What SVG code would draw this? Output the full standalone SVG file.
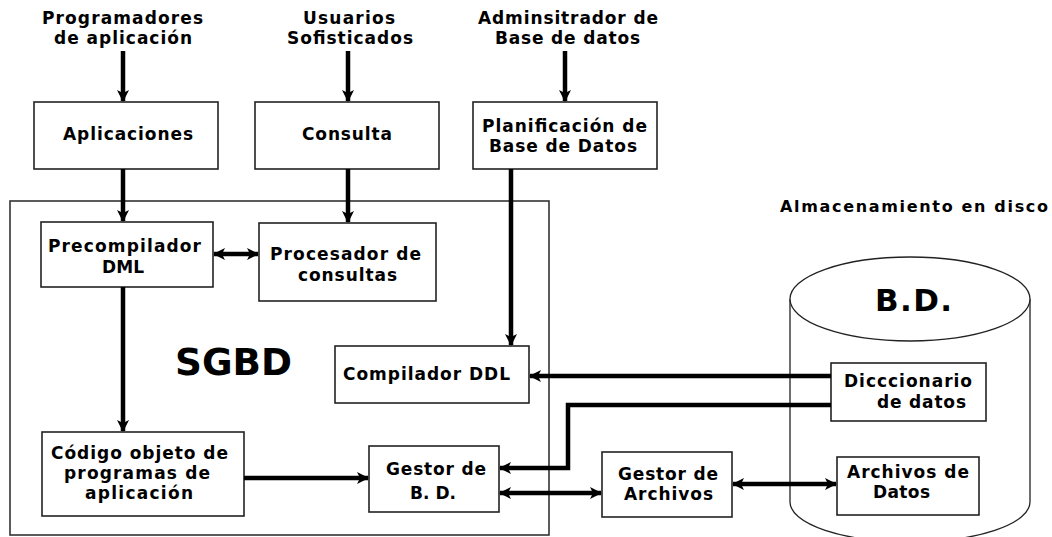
<svg xmlns="http://www.w3.org/2000/svg" width="1052" height="537" viewBox="0 0 1052 537">
<style>
.box{fill:#fff;stroke:#222;stroke-width:1.6}
.t{font-family:"DejaVu Sans","Verdana",sans-serif;font-weight:bold;font-size:17px;fill:#000;text-anchor:middle}
.c{fill:none;stroke:#000;stroke-width:4.5}
.cyl{fill:#fff;stroke:#222;stroke-width:1.3}
</style>
<defs>
<marker id="ah" viewBox="0 0 12 12" refX="11" refY="6" markerWidth="12" markerHeight="12" markerUnits="userSpaceOnUse" orient="auto-start-reverse">
<path d="M0,0 L12,6 L0,12 L3,6 z" fill="#000"/>
</marker>
</defs>
<rect width="1052" height="537" fill="#fff"/>

<g id="sgbd">
<rect x="10" y="201" width="539" height="334" fill="none" stroke="#333" stroke-width="1.6"/>
<text class="t" x="233.5" y="375" style="font-size:37px" textLength="117" lengthAdjust="spacingAndGlyphs">SGBD</text>
</g>

<g id="bd">
<path class="cyl" d="M790,299 L790,502 A120,40 0 0 0 1030,502 L1030,299"/>
<ellipse class="cyl" cx="910" cy="299" rx="120" ry="42"/>
<text class="t" x="913.5" y="311" style="font-size:31px" textLength="77" lengthAdjust="spacing">B.D.</text>
</g>
<g id="almacenamiento">
<text class="t" x="914" y="212" style="font-size:16px" textLength="268" lengthAdjust="spacing">Almacenamiento en disco</text>
</g>

<g id="programadores">
<text class="t" x="122.5" y="24" textLength="161" lengthAdjust="spacing">Programadores</text>
<text class="t" x="123" y="44" textLength="138" lengthAdjust="spacing">de aplicación</text>
</g>
<g id="usuarios">
<text class="t" x="349" y="24" textLength="92" lengthAdjust="spacing">Usuarios</text>
<text class="t" x="350" y="44" textLength="126" lengthAdjust="spacing">Sofisticados</text>
</g>
<g id="administrador">
<text class="t" x="568" y="24" textLength="180" lengthAdjust="spacing">Adminsitrador de</text>
<text class="t" x="567.5" y="44" textLength="145" lengthAdjust="spacing">Base de datos</text>
</g>

<g id="aplicaciones">
<rect class="box" x="34" y="102" width="184" height="67"/>
<text class="t" x="128" y="140" textLength="130" lengthAdjust="spacing">Aplicaciones</text>
</g>
<g id="consulta">
<rect class="box" x="255" y="102" width="184" height="67"/>
<text class="t" x="347" y="140" textLength="90" lengthAdjust="spacing">Consulta</text>
</g>
<g id="planificacion">
<rect class="box" x="473" y="102" width="184" height="67"/>
<text class="t" x="564.5" y="132" textLength="165" lengthAdjust="spacing">Planificación de</text>
<text class="t" x="563" y="152" textLength="148" lengthAdjust="spacing">Base de Datos</text>
</g>

<g id="precompilador">
<rect class="box" x="41" y="222" width="172" height="65"/>
<text class="t" x="124.5" y="252" textLength="153" lengthAdjust="spacing">Precompilador</text>
<text class="t" x="123" y="273" textLength="42" lengthAdjust="spacing">DML</text>
</g>
<g id="procesador">
<rect class="box" x="259" y="223" width="177" height="78"/>
<text class="t" x="345.5" y="260" textLength="151" lengthAdjust="spacing">Procesador de</text>
<text class="t" x="347.5" y="281" textLength="99" lengthAdjust="spacing">consultas</text>
</g>
<g id="compilador">
<rect class="box" x="335" y="346" width="194" height="57"/>
<text class="t" x="426.5" y="380" textLength="167" lengthAdjust="spacing">Compilador DDL</text>
</g>
<g id="codigo">
<rect class="box" x="42" y="432" width="202" height="84"/>
<text class="t" x="139.5" y="459" textLength="177" lengthAdjust="spacing">Código objeto de</text>
<text class="t" x="137" y="479" textLength="146" lengthAdjust="spacing">programas de</text>
<text class="t" x="139" y="499" textLength="108" lengthAdjust="spacing">aplicación</text>
</g>
<g id="gestorbd">
<rect class="box" x="369" y="446" width="130" height="66"/>
<text class="t" x="436" y="475" textLength="100" lengthAdjust="spacing">Gestor de</text>
<text class="t" x="433" y="499" textLength="46" lengthAdjust="spacing">B. D.</text>
</g>
<g id="gestorarchivos">
<rect class="box" x="602" y="452" width="130" height="65"/>
<text class="t" x="668" y="480" textLength="100" lengthAdjust="spacing">Gestor de</text>
<text class="t" x="668.5" y="500" textLength="89" lengthAdjust="spacing">Archivos</text>
</g>
<g id="diccionario">
<rect class="box" x="831" y="363" width="155" height="58"/>
<text class="t" x="908" y="387" textLength="128" lengthAdjust="spacing">Dicccionario</text>
<text class="t" x="921.5" y="408" textLength="89" lengthAdjust="spacing">de datos</text>
</g>
<g id="archivos">
<rect class="box" x="837" y="457" width="142" height="58"/>
<text class="t" x="908" y="478" textLength="122" lengthAdjust="spacing">Archivos de</text>
<text class="t" x="901.5" y="498" textLength="57" lengthAdjust="spacing">Datos</text>
</g>

<g id="connectors">
<path class="c" d="M123,51 L123,101" marker-end="url(#ah)"/>
<path class="c" d="M348,51 L348,101" marker-end="url(#ah)"/>
<path class="c" d="M565,51 L565,101" marker-end="url(#ah)"/>
<path class="c" d="M123,169 L123,221" marker-end="url(#ah)"/>
<path class="c" d="M348,169 L348,222" marker-end="url(#ah)"/>
<path class="c" d="M511,169 L511,345" marker-end="url(#ah)"/>
<path class="c" d="M214,254 L258,254" marker-start="url(#ah)" marker-end="url(#ah)"/>
<path class="c" d="M123,287 L123,431" marker-end="url(#ah)"/>
<path class="c" d="M244,478 L368,478" marker-end="url(#ah)"/>
<path class="c" d="M831,376 L530,376" marker-end="url(#ah)"/>
<path class="c" d="M831,405 L568,405 L568,468 L500,468" marker-end="url(#ah)"/>
<path class="c" d="M500,493 L601,493" marker-start="url(#ah)" marker-end="url(#ah)"/>
<path class="c" d="M733,484 L836,484" marker-start="url(#ah)" marker-end="url(#ah)"/>
</g>
</svg>
